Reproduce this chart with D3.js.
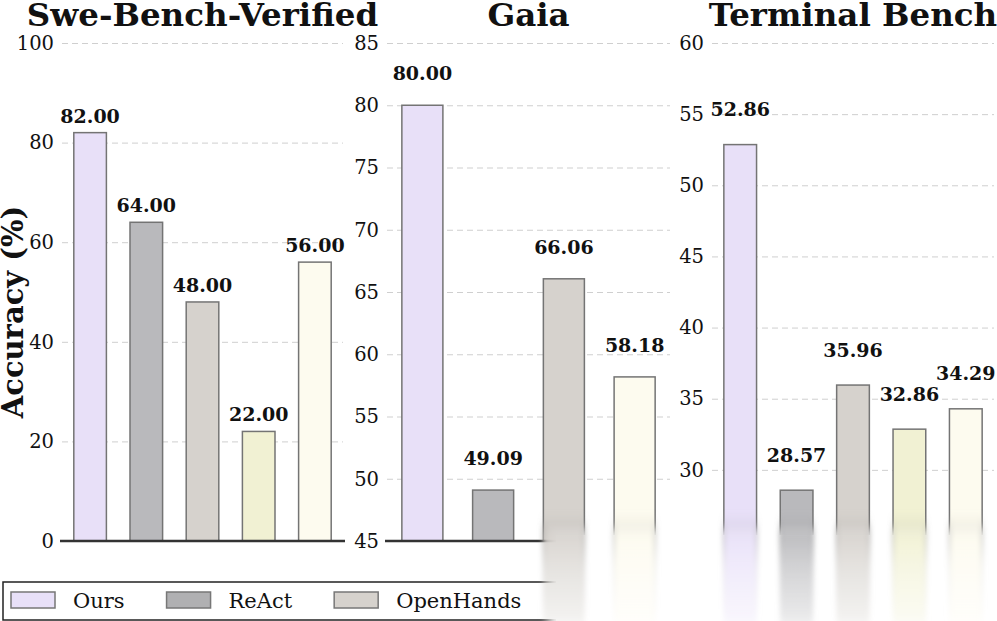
<!DOCTYPE html>
<html lang="en">
<head>
    <meta charset="UTF-8">
    <title>Accuracy by benchmark</title>
    <script src="https://d3js.org/d3.v7.min.js"></script>
    <style>
        body {
            margin: 0;
            background: #fff;
        }

        svg {
            display: block;
            font-family: 'DejaVu Serif', serif;
        }

        .grid line {
            stroke: #cfcfcf;
            stroke-width: 1;
            stroke-dasharray: 6, 4;
        }

        .bar {
            stroke: #747474;
            stroke-width: 1.5;
        }

        .value-label {
            font-size: 19px;
            font-weight: bold;
            text-anchor: middle;
            fill: #111;
        }

        .title {
            font-size: 32.5px;
            font-weight: bold;
            text-anchor: middle;
            fill: #111;
        }
    </style>
</head>
<body>
    <svg width="997" height="621"></svg>

    <script>
        // data
        const legendNames = ['Ours', 'ReAct', 'OpenHands'];
        const seriesColors = ['#e8e0f8', '#b9b9bc', '#d6d2cd', '#f1f1d3', '#fdfbef'];
        const legendColors = ['#e8e0f8', '#b0b0b2', '#d6d2cd'];

        const benchmarks = ['Swe-Bench-Verified', 'Gaia', 'Terminal Bench'];
        const sweValues = [82.00, 64.00, 48.00, 22.00, 56.00];
        const gaiaValues = [80.00, 49.09, 66.06, null, 58.18];
        const terminalValues = [52.86, 28.57, 35.96, 32.86, 34.29];

        const sweTicks = [0, 20, 40, 60, 80, 100];
        const gaiaTicks = [45, 50, 55, 60, 65, 70, 75, 80, 85];
        const terminalTicks = [30, 35, 40, 45, 50, 55, 60];

        const panels = [
            { name: benchmarks[0], values: sweValues, ticks: sweTicks, domain: [0, 100], x0: 62, x1: 343, axisLine: true },
            { name: benchmarks[1], values: gaiaValues, ticks: gaiaTicks, domain: [45, 85], x0: 387, x1: 670, axisLine: true },
            { name: benchmarks[2], values: terminalValues, ticks: terminalTicks, domain: [25, 60], x0: 712, x1: 994, axisLine: false }
        ];

        const svg = d3.select('svg');
        const plotTop = 43, plotBottom = 541;
        const labelOffset = 2; // data units above the bar

        const defs = svg.append('defs');
        defs.append('filter')
            .attr('id', 'smear')
            .attr('x', '-50%').attr('y', '-20%')
            .attr('width', '200%').attr('height', '140%')
            .append('feGaussianBlur')
            .attr('stdDeviation', '2.5 7');
        defs.append('filter')
            .attr('id', 'soft')
            .attr('x', '-10%').attr('y', '-10%')
            .attr('width', '120%').attr('height', '120%')
            .append('feGaussianBlur')
            .attr('stdDeviation', '4');

        const smearBars = [];

        panels.forEach(p => {
            const g = svg.append('g');
            const items = p.values
                .map((v, i) => ({ v, i }))
                .filter(d => d.v !== null);

            const x = d3.scaleBand()
                .domain(items.map(d => d.i))
                .range([p.x0, p.x1])
                .paddingInner(0.42)
                .paddingOuter(0.21);

            const y = d3.scaleLinear()
                .domain(p.domain)
                .range([plotBottom, plotTop]);

            // dashed grid
            g.append('g')
                .attr('class', 'grid')
                .attr('transform', `translate(${p.x0},0)`)
                .call(d3.axisLeft(y).tickValues(p.ticks).tickSize(-(p.x1 - p.x0)).tickFormat(''))
                .call(a => a.select('.domain').remove());

            // tick labels
            g.append('g')
                .attr('transform', `translate(${p.x0},0)`)
                .call(d3.axisLeft(y).tickValues(p.ticks).tickSize(0).tickPadding(8))
                .call(a => a.select('.domain').remove())
                .call(a => a.selectAll('text')
                    .attr('font-family', 'DejaVu Serif')
                    .attr('font-size', '19.5px')
                    .attr('fill', '#111'));

            // bars
            g.selectAll('.bar')
                .data(items)
                .enter().append('rect')
                .attr('class', 'bar')
                .attr('x', d => x(d.i))
                .attr('y', d => y(d.v))
                .attr('width', x.bandwidth())
                .attr('height', d => y(p.domain[0]) - y(d.v))
                .attr('fill', d => seriesColors[d.i]);

            // value labels
            g.selectAll('.value-label')
                .data(items)
                .enter().append('text')
                .attr('class', 'value-label')
                .attr('x', d => x(d.i) + x.bandwidth() / 2)
                .attr('y', d => y(d.v + labelOffset))
                .text(d => d.v.toFixed(2));

            if (p.axisLine) {
                g.append('line')
                    .attr('x1', p.x0 - 2).attr('x2', p.x1 + 2)
                    .attr('y1', y(p.domain[0])).attr('y2', y(p.domain[0]))
                    .attr('stroke', '#333')
                    .attr('stroke-width', 2.5);
            }

            // title
            g.append('text')
                .attr('class', 'title')
                .attr('x', (p.x0 + p.x1) / 2)
                .attr('y', 26)
                .text(p.name);

            items.forEach(d => {
                if (x(d.i) > 540) smearBars.push({ x: x(d.i), w: x.bandwidth(), color: seriesColors[d.i] });
            });
        });

        // y axis label
        svg.append('text')
            .attr('transform', 'translate(23,312) rotate(-90)')
            .attr('text-anchor', 'middle')
            .attr('font-size', '29px')
            .attr('font-weight', 'bold')
            .attr('fill', '#111')
            .text('Accuracy (%)');

        // legend
        const legend = svg.append('g');
        legend.append('rect')
            .attr('x', 3).attr('y', 582)
            .attr('width', 600).attr('height', 38)
            .attr('fill', '#fff')
            .attr('stroke', '#222')
            .attr('stroke-width', 1.5);

        let lx = 11;
        legendNames.forEach((name, i) => {
            legend.append('rect')
                .attr('x', lx).attr('y', 592)
                .attr('width', 44).attr('height', 16)
                .attr('fill', legendColors[i])
                .attr('stroke', '#777')
                .attr('stroke-width', 1.5);
            const t = legend.append('text')
                .attr('x', lx + 62).attr('y', 608)
                .attr('font-size', '21px')
                .attr('fill', '#111')
                .text(name);
            lx += 62 + t.node().getComputedTextLength() + 42;
        });

        // washed-out lower right corner of the source picture
        const wash = svg.append('g');
        wash.append('rect')
            .attr('x', 550).attr('y', 531)
            .attr('width', 470).attr('height', 110)
            .attr('fill', '#fff')
            .attr('filter', 'url(#soft)');
        wash.append('rect')
            .attr('x', 556).attr('y', 535)
            .attr('width', 460).attr('height', 100)
            .attr('fill', '#fff');

        smearBars.forEach((b, i) => {
            const gid = 'fade' + i;
            const lg = defs.append('linearGradient')
                .attr('id', gid)
                .attr('x1', 0).attr('x2', 0).attr('y1', 0).attr('y2', 1);
            lg.append('stop').attr('offset', '0%').attr('stop-color', b.color).attr('stop-opacity', 1);
            lg.append('stop').attr('offset', '45%').attr('stop-color', b.color).attr('stop-opacity', 0.6);
            lg.append('stop').attr('offset', '100%').attr('stop-color', b.color).attr('stop-opacity', 0.25);

            const eg = defs.append('linearGradient')
                .attr('id', gid + 'e')
                .attr('x1', 0).attr('x2', 0).attr('y1', 0).attr('y2', 1);
            eg.append('stop').attr('offset', '0%').attr('stop-color', '#777').attr('stop-opacity', 0.9);
            eg.append('stop').attr('offset', '40%').attr('stop-color', '#999').attr('stop-opacity', 0.25);
            eg.append('stop').attr('offset', '100%').attr('stop-color', '#bbb').attr('stop-opacity', 0);

            wash.append('rect')
                .attr('x', b.x).attr('y', 526)
                .attr('width', b.w).attr('height', 100)
                .attr('fill', `url(#${gid})`)
                .attr('stroke', `url(#${gid}e)`)
                .attr('stroke-width', 1.5)
                .attr('filter', 'url(#smear)');
        });
    </script>
</body>
</html>
